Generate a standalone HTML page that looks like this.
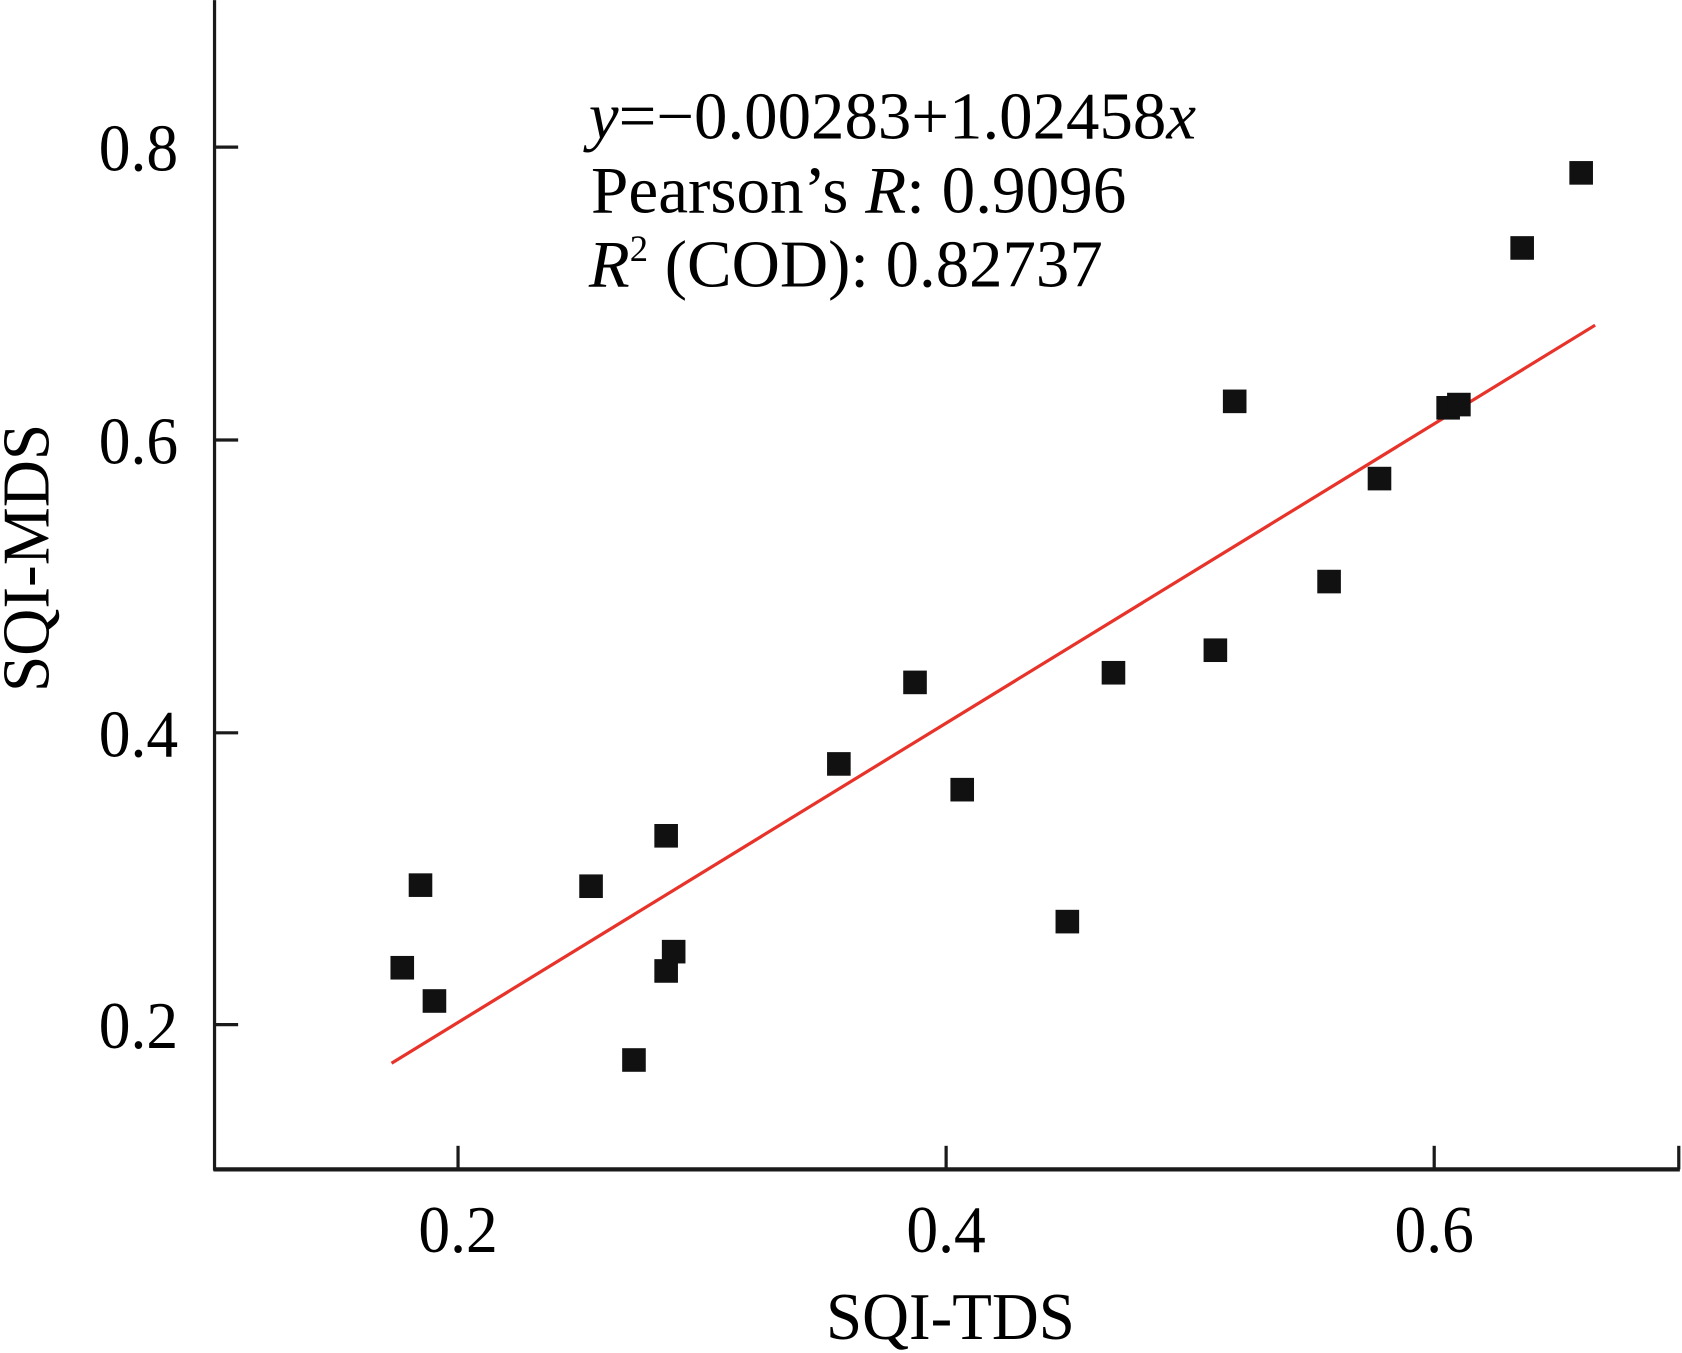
<!DOCTYPE html>
<html><head><style>html,body{margin:0;padding:0;background:#fff}svg{display:block}</style></head>
<body>
<svg width="1682" height="1353" viewBox="0 0 1568 1261" xmlns="http://www.w3.org/2000/svg" font-family="Liberation Serif, serif" fill="#000">
<rect width="1568" height="1261" fill="#fff"/>
<g stroke="#1a1a1a" stroke-width="3">
<line x1="200" y1="0" x2="200" y2="1091"/>
<line x1="199" y1="1090" x2="1566" y2="1090" stroke-width="4"/>
<line x1="427" y1="1068" x2="427" y2="1090"/>
<line x1="882" y1="1068" x2="882" y2="1090"/>
<line x1="1337" y1="1068" x2="1337" y2="1090"/>
<line x1="1565" y1="1068" x2="1565" y2="1090"/>
<line x1="200" y1="137" x2="222" y2="137"/>
<line x1="200" y1="410" x2="222" y2="410"/>
<line x1="200" y1="683" x2="222" y2="683"/>
<line x1="200" y1="955" x2="222" y2="955"/>
</g>
<g font-size="62">
<text x="92" y="159" textLength="74" lengthAdjust="spacingAndGlyphs">0.8</text>
<text x="92" y="432" textLength="74" lengthAdjust="spacingAndGlyphs">0.6</text>
<text x="92" y="705" textLength="74" lengthAdjust="spacingAndGlyphs">0.4</text>
<text x="92" y="977" textLength="74" lengthAdjust="spacingAndGlyphs">0.2</text>
<text x="390" y="1167" textLength="74" lengthAdjust="spacingAndGlyphs">0.2</text>
<text x="845" y="1167" textLength="74" lengthAdjust="spacingAndGlyphs">0.4</text>
<text x="1300" y="1167" textLength="74" lengthAdjust="spacingAndGlyphs">0.6</text>
<text x="770" y="1248" textLength="232" lengthAdjust="spacingAndGlyphs">SQI-TDS</text>
<text transform="translate(45,645) rotate(-90)" textLength="250" lengthAdjust="spacingAndGlyphs">SQI-MDS</text>
<text x="549" y="129" textLength="566" lengthAdjust="spacingAndGlyphs"><tspan font-style="italic">y</tspan>=−0.00283+1.02458<tspan font-style="italic">x</tspan></text>
<text x="551" y="198" textLength="499" lengthAdjust="spacingAndGlyphs">Pearson’s <tspan font-style="italic">R</tspan>: 0.9096</text>
<text x="549" y="267" textLength="479" lengthAdjust="spacingAndGlyphs"><tspan font-style="italic">R</tspan><tspan font-size="34" dy="-24">2</tspan><tspan dy="24"> (COD): 0.82737</tspan></text>
</g>
<line x1="365" y1="991" x2="1487" y2="303" stroke="#e8332a" stroke-width="3"/>
<g fill="#111">
<rect x="364" y="891" width="22" height="22"/>
<rect x="381" y="814" width="22" height="22"/>
<rect x="394" y="922" width="22" height="22"/>
<rect x="540" y="815" width="22" height="22"/>
<rect x="580" y="977" width="22" height="22"/>
<rect x="610" y="768" width="22" height="22"/>
<rect x="610" y="894" width="22" height="22"/>
<rect x="617" y="876" width="22" height="22"/>
<rect x="771" y="701" width="22" height="22"/>
<rect x="842" y="625" width="22" height="22"/>
<rect x="886" y="725" width="22" height="22"/>
<rect x="984" y="848" width="22" height="22"/>
<rect x="1027" y="616" width="22" height="22"/>
<rect x="1122" y="595" width="22" height="22"/>
<rect x="1140" y="363" width="22" height="22"/>
<rect x="1228" y="531" width="22" height="22"/>
<rect x="1275" y="435" width="22" height="22"/>
<rect x="1339" y="369" width="22" height="22"/>
<rect x="1349" y="366" width="22" height="22"/>
<rect x="1408" y="220" width="22" height="22"/>
<rect x="1463" y="150" width="22" height="22"/>
</g>
</svg>
</body></html>
